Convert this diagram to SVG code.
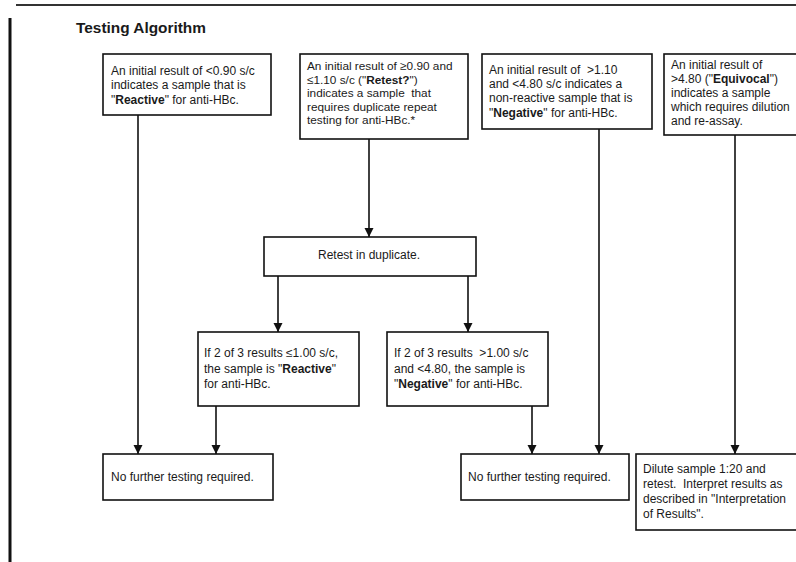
<svg xmlns="http://www.w3.org/2000/svg" width="796" height="562" viewBox="0 0 796 562">
<style>
text{font-family:"Liberation Sans",Arial,sans-serif;font-size:12px;fill:#1a1a1a;white-space:pre}
.b{font-weight:bold}
.s{font-size:11.8px}
.title{font-size:15.4px;font-weight:bold}
rect{fill:#fff;stroke:#111;stroke-width:1.6}
.c{stroke:#111;stroke-width:1.6;fill:none}
</style>
<defs>
<marker id="ah" viewBox="0 0 10 10" refX="10" refY="5" markerWidth="9" markerHeight="10" markerUnits="userSpaceOnUse" orient="auto"><path d="M0,0 L10,5 L0,10 z" fill="#111"/></marker>
</defs>
<line x1="16" y1="5" x2="796" y2="5" stroke="#333" stroke-width="2"/>
<line x1="10" y1="18" x2="10" y2="562" stroke="#111" stroke-width="3"/>
<text class="title" x="76" y="33">Testing Algorithm</text>

<g id="connectors">
<line class="c" x1="138" y1="115" x2="138" y2="454" marker-end="url(#ah)"/>
<line class="c" x1="369" y1="139" x2="369" y2="237" marker-end="url(#ah)"/>
<line class="c" x1="599" y1="129" x2="599" y2="454" marker-end="url(#ah)"/>
<line class="c" x1="735" y1="135" x2="735" y2="454" marker-end="url(#ah)"/>
<line class="c" x1="278" y1="276" x2="278" y2="332" marker-end="url(#ah)"/>
<line class="c" x1="468" y1="276" x2="468" y2="332" marker-end="url(#ah)"/>
<line class="c" x1="216" y1="406" x2="216" y2="454" marker-end="url(#ah)"/>
<line class="c" x1="532" y1="406" x2="532" y2="454" marker-end="url(#ah)"/>
</g>

<g id="n1">
<rect x="103" y="54" width="168" height="61"/>
<text x="111" y="75">An initial result of &lt;0.90 s/c</text>
<text x="111" y="89">indicates a sample that is</text>
<text x="111" y="104">"<tspan class="b">Reactive</tspan>" for anti-HBc.</text>
</g>

<g id="n2">
<rect x="300" y="54" width="168" height="85"/>
<text class="s" x="307" y="70">An initial result of ≥0.90 and</text>
<text class="s" x="307" y="83.5">≤1.10 s/c ("<tspan class="b">Retest?</tspan>")</text>
<text class="s" x="307" y="97">indicates a sample  that</text>
<text class="s" x="307" y="110.5">requires duplicate repeat</text>
<text class="s" x="307" y="124">testing for anti-HBc.*</text>
</g>

<g id="n3">
<rect x="482" y="54" width="170" height="75"/>
<text x="489" y="74">An initial result of  &gt;1.10</text>
<text x="489" y="88">and &lt;4.80 s/c indicates a</text>
<text x="489" y="102">non-reactive sample that is</text>
<text x="489" y="117">"<tspan class="b">Negative</tspan>" for anti-HBc.</text>
</g>

<g id="n4">
<rect x="664" y="54" width="140" height="81"/>
<text x="671" y="69">An initial result of</text>
<text x="671" y="83">&gt;4.80 ("<tspan class="b">Equivocal</tspan>")</text>
<text x="671" y="97">indicates a sample</text>
<text x="671" y="111">which requires dilution</text>
<text x="671" y="125">and re-assay.</text>
</g>

<g id="n5">
<rect x="264" y="237" width="212" height="39"/>
<text x="369" y="259" text-anchor="middle">Retest in duplicate.</text>
</g>

<g id="n6">
<rect x="198" y="332" width="161" height="74"/>
<text x="204" y="357">If 2 of 3 results ≤1.00 s/c,</text>
<text x="204" y="373">the sample is "<tspan class="b">Reactive</tspan>"</text>
<text x="204" y="388">for anti-HBc.</text>
</g>

<g id="n7">
<rect x="387" y="332" width="161" height="74"/>
<text x="394" y="357">If 2 of 3 results  &gt;1.00 s/c</text>
<text x="394" y="373">and &lt;4.80, the sample is</text>
<text x="394" y="388">"<tspan class="b">Negative</tspan>" for anti-HBc.</text>
</g>

<g id="n8">
<rect x="103" y="454" width="170" height="46"/>
<text x="111" y="481">No further testing required.</text>
</g>

<g id="n9">
<rect x="461" y="454" width="168" height="46"/>
<text x="468" y="481">No further testing required.</text>
</g>

<g id="n10">
<rect x="636" y="454" width="168" height="76"/>
<text x="643" y="473">Dilute sample 1:20 and</text>
<text x="643" y="488">retest.  Interpret results as</text>
<text x="643" y="503">described in "Interpretation</text>
<text x="643" y="518">of Results".</text>
</g>
</svg>
